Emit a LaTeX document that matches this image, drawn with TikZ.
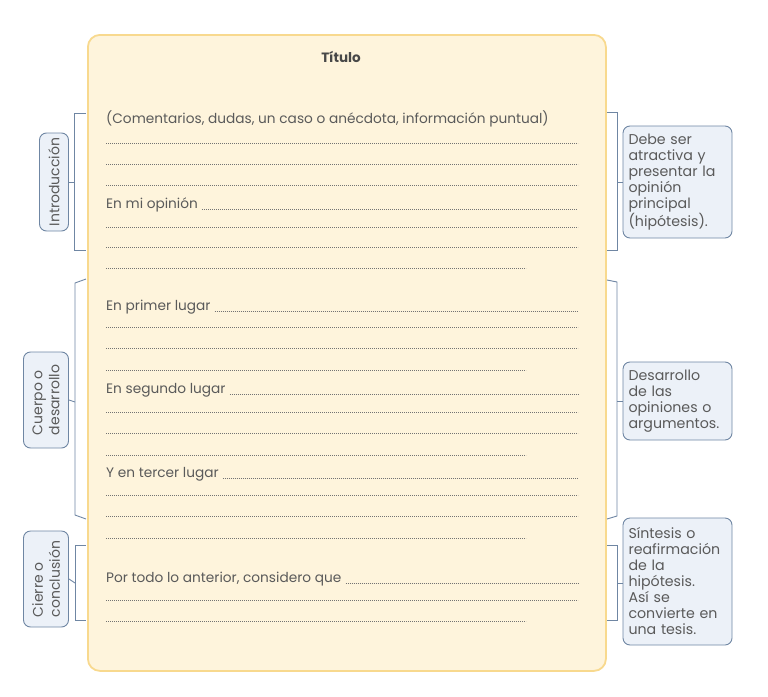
\documentclass[tikz,border=0pt]{standalone}
\usepackage{fontspec}
\setmainfont{Poppins}
\usepackage{tikz}
\usetikzlibrary{calc,positioning}

\definecolor{papel}{HTML}{FEF4DC}
\definecolor{borde}{HTML}{F8D98E}
\definecolor{texto}{HTML}{5A5A5A}
\definecolor{etiq}{HTML}{ECF1F8}
\definecolor{azul}{HTML}{6F86A3}

\tikzset{
  etiqueta/.style={draw=azul, fill=etiq, rounded corners=7pt, line width=0.9pt,
    text=texto, font=\fontsize{14}{17}\selectfont, align=left, inner sep=3pt},
  nota/.style={etiqueta, minimum width=109pt, text width=98pt,
    font=\fontsize{14.2}{16}\selectfont},
  frase/.style={anchor=base west, inner sep=0pt, text=texto,
    font=\fontsize{13.7}{15}\selectfont},
  linea/.style={draw=texto!85, line width=0.8pt, dash pattern=on 0.8pt off 1.2pt},
  llave/.style={draw=azul, line width=0.9pt},
}

\begin{document}
\begin{tikzpicture}[x=1pt,y=-1pt]
\useasboundingbox (0,0) rectangle (768,696);

% hoja principal
\node[draw=borde, fill=papel, line width=1.8pt, rounded corners=12pt,
  minimum width=518pt, minimum height=636pt, anchor=north west, inner sep=0pt]
  (hoja) at (87,34) {};
\node[font=\bfseries\fontsize{13.5}{15}\selectfont, text=texto!80!black] (titulo) at (341,57) {Título};
\coordinate (margen) at (578,0);

% frases
\node[frase] (comentarios) at (106,123) {(Comentarios, dudas, un caso o anécdota, información puntual)};
\node[frase] (opinion) at (106,208) {En mi opinión};
\node[frase] (primer)  at (106,310) {En primer lugar};
\node[frase] (segundo) at (106,393) {En segundo lugar};
\node[frase] (tercer)  at (106,477) {Y en tercer lugar};
\node[frase] (portodo) at (106,582) {Por todo lo anterior, considero que};

% renglones
\foreach \f in {opinion,primer,segundo,tercer,portodo}
  \draw[linea] ([xshift=4pt,yshift=-1pt]\f.base east) -- ([yshift=-1pt]\f.base east -| margen);
\foreach \y in {143,164,185,227,247,327,348,412,433,495,516,600}
  \draw[linea] (106,\y) -- (578,\y);
\foreach \y in {268,370,455,538,621}
  \draw[linea] (106,\y) -- (526,\y);

% etiquetas izquierda
\node[etiqueta, rotate=90, minimum width=98pt, minimum height=29pt] (intro) at (54,182) {Introducción};
\node[etiqueta, rotate=90, minimum width=96pt, minimum height=45pt] (cuerpo) at (46,400) {Cuerpo o\\desarrollo};
\node[etiqueta, rotate=90, minimum width=96pt, minimum height=45pt] (cierre) at (46,579) {Cierre o\\conclusión};

% notas derecha
\node[nota, minimum height=112pt] (debe) at (677.5,182) {Debe ser\\atractiva y\\presentar la\\opinión\\principal\\(hipótesis).};
\node[nota, minimum height=78pt] (desarrollo) at (677.5,401) {Desarrollo\\de las\\opiniones o\\argumentos.};
\node[nota, minimum height=127pt] (sintesis) at (677.5,581.5) {Síntesis o\\reafirmación\\de la\\hipótesis.\\Así se\\convierte en\\una tesis.};

% llaves izquierda
\draw[llave] (86,113) -- (74,113) -- (74,250) -- (86,250);
\draw[llave] (86,279) -- (75,283) -- (75,515) -- (86,519);
\draw[llave] (86,545) -- (75,545) -- (75,620) -- (86,620);
\coordinate (llaveA) at (74,182);
\coordinate (llaveB) at (75,402);
\coordinate (llaveC) at (75,583);
\draw[llave] (llaveA) -- (intro.south);
\draw[llave] (llaveB) -- (cuerpo.south);
\draw[llave] (llaveC) -- (cierre.south);

% llaves derecha
\draw[llave] (607,112) -- (617,112) -- (617,250) -- (607,250);
\draw[llave] (607,280) -- (617,282) -- (617,516) -- (607,519);
\draw[llave] (607,545) -- (617,545) -- (617,620) -- (607,620);
\coordinate (llaveD) at (617,182);
\coordinate (llaveE) at (617,401);
\coordinate (llaveF) at (617,583);
\draw[llave] (llaveD) -- (debe.west);
\draw[llave] (llaveE) -- (desarrollo.west);
\draw[llave] (llaveF) -- (sintesis.west |- llaveF);
\end{tikzpicture}
\end{document}
